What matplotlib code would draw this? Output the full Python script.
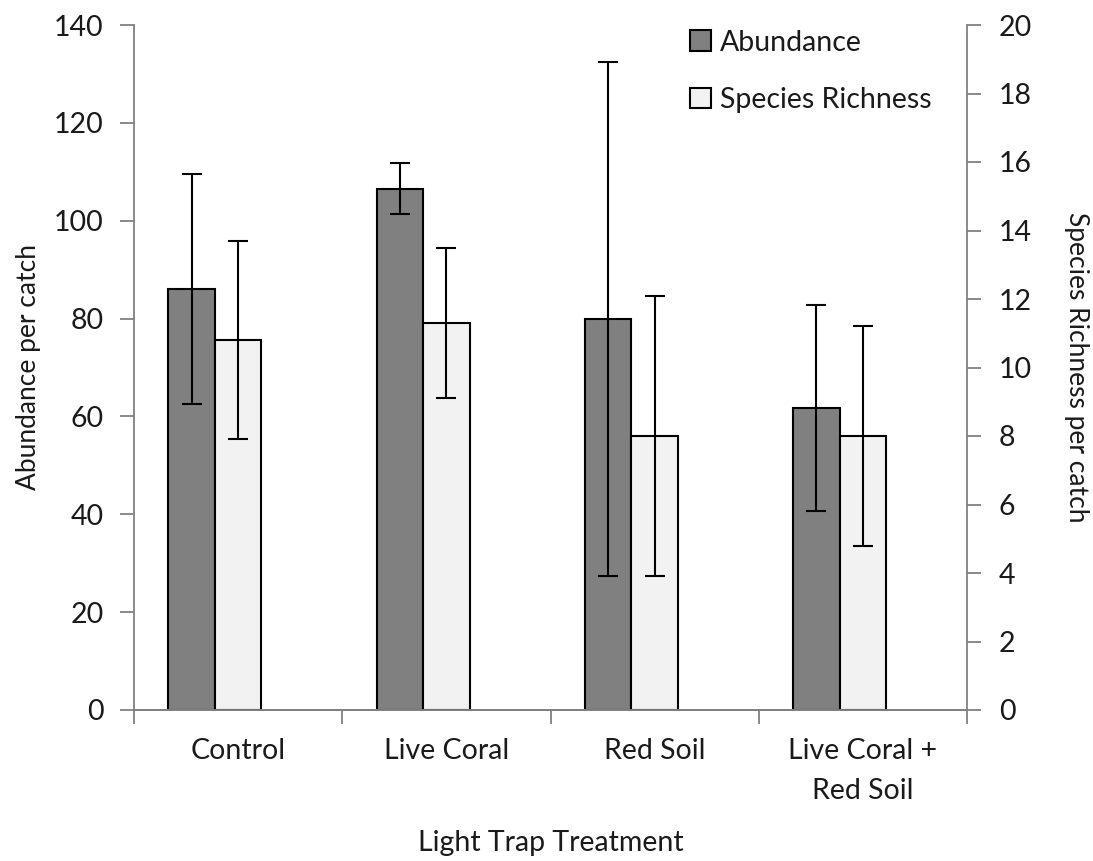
import matplotlib
matplotlib.use("Agg")
import matplotlib.pyplot as plt
import matplotlib.transforms as mtransforms
import numpy as np

categories = ["Control", "Live Coral", "Red Soil", "Live Coral +\nRed Soil"]
abundance = [86.0, 106.5, 79.9, 61.7]
abundance_err = [23.5, 5.2, 52.6, 21.0]
richness = [10.8, 11.3, 8.0, 8.0]
richness_err = [2.9, 2.2, 4.1, 3.2]
left_ticks = [0, 20, 40, 60, 80, 100, 120, 140]
right_ticks = [0, 2, 4, 6, 8, 10, 12, 14, 16, 18, 20]

plt.rcParams['font.family'] = ['Lato', 'DejaVu Sans']
FS = 20.5
gray = '#808080'
txt = '#1a1a1a'

fig = plt.figure(figsize=(10.93, 8.61), dpi=100)
ax = fig.add_axes([134/1093, 1-710/861, (967-134)/1093, (710-25)/861])
ax2 = ax.twinx()

x = np.arange(len(categories))
w = 0.223

b1 = ax.bar(x - w, abundance, width=w, color='#808080', edgecolor='black',
            linewidth=1.5, label='Abundance', zorder=2)
ax.errorbar(x - w, abundance, yerr=abundance_err, fmt='none', ecolor='black',
            elinewidth=1.5, capsize=7, capthick=1.5, zorder=3)
b2 = ax2.bar(x, richness, width=w, color='#f2f2f2', edgecolor='black',
             linewidth=1.5, label='Species Richness', zorder=2)
ax2.errorbar(x, richness, yerr=richness_err, fmt='none', ecolor='black',
             elinewidth=1.5, capsize=7, capthick=1.5, zorder=3)

ax.set_xlim(-0.5, len(categories) - 0.5)
ax.set_ylim(0, 140)
ax2.set_ylim(0, 20)
ax.set_yticks(left_ticks)
ax2.set_yticks(right_ticks)

# category boundaries as major ticks; category names drawn centred below
ax.set_xticks(np.arange(len(categories) + 1) - 0.5)
ax.set_xticklabels([])
ax.tick_params(axis='x', which='major', direction='out', length=10, width=1.3, color=gray)
trans = mtransforms.blended_transform_factory(ax.transData, ax.transAxes)
for xi, cat in zip(x, categories):
    ax.text(xi, (710 - 738) / (710 - 25), cat, transform=trans, ha='center',
            va='top', fontsize=FS, color=txt, linespacing=1.65)

ax.tick_params(axis='y', direction='out', length=10, width=1.3, color=gray,
               labelsize=FS, labelcolor=txt, pad=12)
ax2.tick_params(axis='y', direction='out', length=10, width=1.3, color=gray,
                labelsize=FS, labelcolor=txt, pad=13)

for a in (ax, ax2):
    a.spines['top'].set_visible(False)
    for s in ('left', 'right', 'bottom'):
        a.spines[s].set_color(gray)
        a.spines[s].set_linewidth(1.3)
ax.spines['right'].set_visible(False)
ax2.spines['left'].set_visible(False)

ax.set_ylabel('Abundance per catch', fontsize=19, color=txt, va='center')
ax.yaxis.set_label_coords((29 - 134) / (967 - 134), 0.5)
ax2.set_ylabel('Species Richness per catch', fontsize=19, color=txt,
               rotation=270, va='center')
ax2.yaxis.set_label_coords((1077 - 134) / (967 - 134), 0.5)
ax.set_xlabel('Light Trap Treatment', fontsize=FS, color=txt, va='center')
ax.xaxis.set_label_coords(0.5, (710 - 843) / (710 - 25))

leg = ax2.legend(handles=[b1, b2], loc='upper left',
                 bbox_to_anchor=(664/1093, 1-4/861), bbox_transform=fig.transFigure,
                 frameon=False, fontsize=FS, handlelength=0.75, handleheight=0.75,
                 handletextpad=0.3, labelspacing=1.1)
for t in leg.get_texts():
    t.set_color(txt)

fig.savefig('out.png', dpi=100)
